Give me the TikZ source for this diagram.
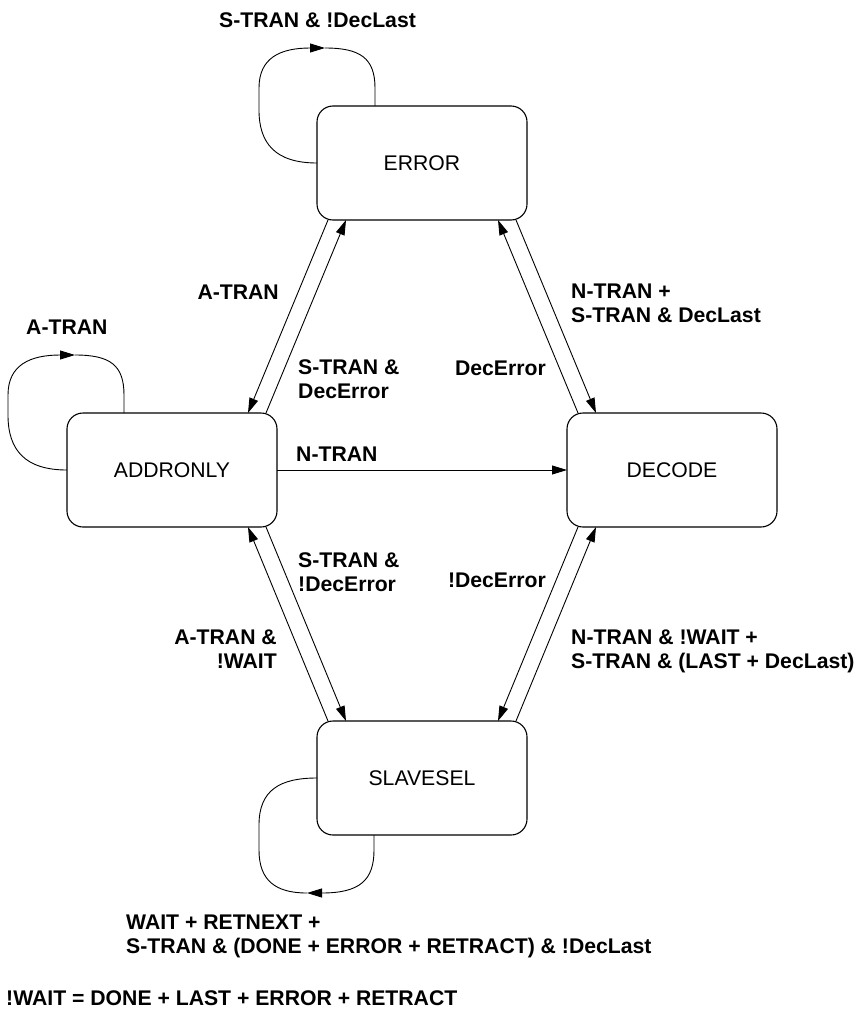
\documentclass[tikz,border=0pt]{standalone}
\usepackage{fontspec}
\setmainfont{Liberation Sans}
\usetikzlibrary{arrows.meta}
\begin{document}
\begin{tikzpicture}[x=1pt,y=-1pt,
  state/.style={draw=black, line width=1.1pt, rounded corners=16pt, minimum width=210pt, minimum height=114pt, inner sep=0pt, outer sep=0pt, font=\fontsize{21.2}{24}\selectfont},
  lbl/.style={font=\fontsize{21.2}{24}\selectfont\bfseries, inner sep=0pt, text=black},
  edge/.style={draw=black, line width=0.9pt},
  arr/.style={edge, -{Triangle[length=15pt,width=9pt]}},
]
\useasboundingbox (0,0) rectangle (860,1009);

% states
\node[state] (err)  at (422,163) {ERROR};
\node[state] (addr) at (172,470) {ADDRONLY};
\node[state] (dec)  at (672,470) {DECODE};
\node[state] (sl)   at (422,778) {SLAVESEL};

% transitions between states
\draw[arr] ([xshift=-94pt]err.south) -- ([xshift=76pt]addr.north);
\draw[arr] ([xshift=94pt]addr.north) -- ([xshift=-76pt]err.south);
\draw[arr] ([xshift=94pt]err.south) -- ([xshift=-76pt]dec.north);
\draw[arr] ([xshift=-94pt]dec.north) -- ([xshift=76pt]err.south);
\draw[arr] (addr.east) -- (dec.west);
\draw[arr] ([xshift=-94pt]sl.north) -- ([xshift=76pt]addr.south);
\draw[arr] ([xshift=94pt]addr.south) -- ([xshift=-76pt]sl.north);
\draw[arr] ([xshift=-94pt]dec.south) -- ([xshift=76pt]sl.north);
\draw[arr] ([xshift=94pt]sl.north) -- ([xshift=-76pt]dec.south);

% self loops
\coordinate (etip) at (325,48);
\draw[arr] (err.west) .. controls (275,163) and (259,143) .. (259,110) -- (259,88)
  .. controls (259,58) and (280,48) .. (etip);
\draw[edge] (etip) .. controls (360,48) and (375,58) .. (375,88) -- ([xshift=58pt]err.north west);

\coordinate (atip) at (75,355);
\draw[arr] (addr.west) .. controls (25,470) and (8,450) .. (8,415) -- (8,395)
  .. controls (8,365) and (30,355) .. (atip);
\draw[edge] (atip) .. controls (110,355) and (124,365) .. (124,395) -- ([xshift=57pt]addr.north west);

\coordinate (stip) at (307,893);
\draw[arr] ([xshift=57pt]sl.south west) -- (374,850) .. controls (374,880) and (360,893) .. (stip);
\draw[edge] (stip) .. controls (275,893) and (259,880) .. (259,850) -- (259,825)
  .. controls (259,790) and (280,778) .. (sl.west);

% labels
\node[lbl, anchor=west] (l1) at (219,20) {S-TRAN \& !DecLast};
\node[lbl, anchor=east] (l2) at (279,292) {A-TRAN};
\node[lbl, anchor=west, align=left] (l3) at (298,379) {S-TRAN \&\\DecError};
\node[lbl, anchor=west, align=left] (l4) at (571,303) {N-TRAN +\\S-TRAN \& DecLast};
\node[lbl, anchor=east] (l5) at (546,368) {DecError};
\node[lbl, anchor=west] (l6) at (296,454) {N-TRAN};
\node[lbl, anchor=west, align=left] (l7) at (298,572) {S-TRAN \&\\!DecError};
\node[lbl, anchor=east] (l8) at (546,580) {!DecError};
\node[lbl, anchor=east, align=right] (l9) at (277,649) {A-TRAN \&\\!WAIT};
\node[lbl, anchor=west, align=left] (l10) at (571,651) {N-TRAN \& !WAIT +\\S-TRAN \& (LAST + DecLast)};
\node[lbl, anchor=west] (l11) at (26,327) {A-TRAN};
\node[lbl, anchor=west, align=left] (l12) at (126,936) {WAIT + RETNEXT +\\S-TRAN \& (DONE + ERROR + RETRACT) \& !DecLast};
\node[lbl, anchor=west] (l13) at (6,998) {!WAIT = DONE + LAST + ERROR + RETRACT};
\end{tikzpicture}
\end{document}
